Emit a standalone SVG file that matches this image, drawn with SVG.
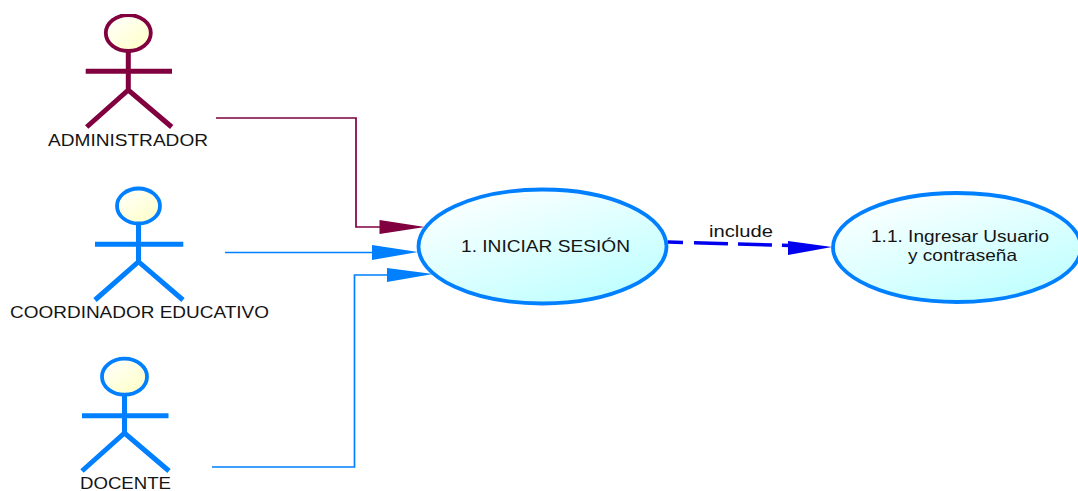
<svg xmlns="http://www.w3.org/2000/svg" width="1078" height="491" viewBox="0 0 1078 491">
<style>
text{font-family:"Liberation Sans",Arial,sans-serif;font-size:16.500px;fill:#141414}
.m{text-anchor:middle}
.head{fill:url(#hg);stroke-width:3.8}
.fig{fill:none;stroke-width:5}
.uc{fill:url(#ug);stroke:#0080ff;stroke-width:3.800}
.pur{stroke:#800040}
.blu{stroke:#0080ff}
.ln{fill:none;stroke-width:1.7}
</style>
<defs>
<linearGradient id="hg" x1="0.1" y1="0" x2="0.9" y2="1"><stop offset="0" stop-color="#ffffff"/><stop offset="1" stop-color="#ffffc4"/></linearGradient>
<linearGradient id="ug" x1="0.15" y1="0" x2="0.85" y2="1"><stop offset="0" stop-color="#ffffff"/><stop offset="1" stop-color="#bcffff"/></linearGradient>
<clipPath id="top"><rect x="0" y="14" width="300" height="100"/></clipPath>
</defs>
<rect width="1078" height="491" fill="#ffffff"/>
<g id="connectors">
<path class="ln pur" d="M216 118H356V227H385"/>
<polygon points="379.500,220 425,227 379.500,234" fill="#800040"/>
<path class="ln blu" d="M225 252.500H378"/>
<polygon points="372,245 418,252 372,260" fill="#0080ff"/>
<path class="ln blu" d="M212 467H354.500V275H392"/>
<polygon points="387,268 433,274 387,282" fill="#0080ff"/>
<path d="M668 242L790 245.500" fill="none" stroke="#0000ee" stroke-width="3.500" stroke-dasharray="15 11 34 10 34 10 34"/>
<polygon points="788,241 832,247 788,255" fill="#0000ee"/>
<text x="741" y="237" class="m" textLength="64" lengthAdjust="spacingAndGlyphs">include</text>
</g>
<g id="actor-administrador">
<ellipse class="head pur" cx="128.300" cy="33" rx="22.500" ry="18" clip-path="url(#top)"/>
<path class="fig pur" d="M128.300 52V90M85.700 71.300H172M86.700 127L128.300 90L171.700 127"/>
<text x="128" y="146" class="m" textLength="160" lengthAdjust="spacingAndGlyphs">ADMINISTRADOR</text>
</g>
<g id="actor-coordinador">
<ellipse class="head blu" cx="138.500" cy="206" rx="21.500" ry="17.500"/>
<path class="fig blu" d="M138.500 224V261.700M95 244.300H183.300M95 300L138.500 261.700L183 300"/>
<text x="139.500" y="318" class="m" textLength="259" lengthAdjust="spacingAndGlyphs">COORDINADOR EDUCATIVO</text>
</g>
<g id="actor-docente">
<ellipse class="head blu" cx="124.500" cy="376.700" rx="22.500" ry="18"/>
<path class="fig blu" d="M124.500 395V433M82 415.700H168.500M82 471L124.500 433L169 471"/>
<text x="125.500" y="489" class="m" textLength="91" lengthAdjust="spacingAndGlyphs">DOCENTE</text>
</g>
<g id="uc-iniciar">
<ellipse class="uc" cx="542.500" cy="246.500" rx="124" ry="57"/>
<text x="545.500" y="252" class="m" textLength="169" lengthAdjust="spacingAndGlyphs">1. INICIAR SESIÓN</text>
</g>
<g id="uc-ingresar">
<ellipse class="uc" cx="957" cy="247.500" rx="124" ry="54.500"/>
<text x="960" y="242" class="m" textLength="178" lengthAdjust="spacingAndGlyphs">1.1. Ingresar Usuario</text>
<text x="962.500" y="261" class="m" textLength="109" lengthAdjust="spacingAndGlyphs">y contraseña</text>
</g>
</svg>
